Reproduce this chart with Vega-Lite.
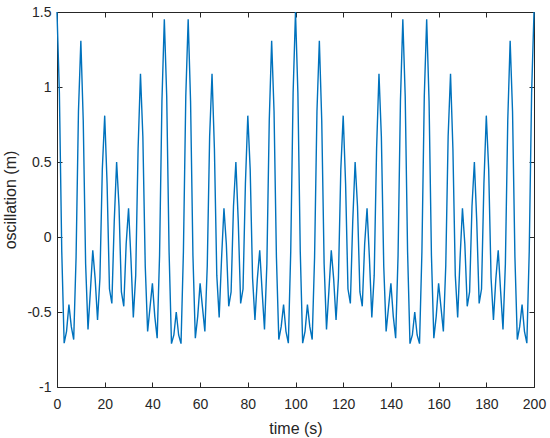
{
  "$schema": "https://vega.github.io/schema/vega-lite/v6.json",
  "width": 477,
  "height": 375,
  "autosize": "none",
  "padding": {"left": 57, "top": 12, "right": 16, "bottom": 51},
  "background": "white",
  "config": {
    "view": {"stroke": null},
    "axis": {
      "grid": false,
      "domainColor": "#262626",
      "tickColor": "#262626",
      "labelColor": "#262626",
      "titleColor": "#262626",
      "labelFont": "Liberation Sans",
      "titleFont": "Liberation Sans",
      "labelFontSize": 14,
      "titleFontSize": 16,
      "titleFontWeight": "normal",
      "tickSize": -5,
      "domainWidth": 1,
      "tickWidth": 1
    }
  },
  "data": {
    "values": [
      {"t":0,"v":1.5},{"t":1,"v":0.962},{"t":2,"v":-0.098},{"t":3,"v":-0.708},{"t":4,"v":-0.629},{"t":5,"v":-0.451},{"t":6,"v":-0.598},{"t":7,"v":-0.684},{"t":8,"v":-0.134},{"t":9,"v":0.838},
      {"t":10,"v":1.309},{"t":11,"v":0.778},{"t":12,"v":-0.179},{"t":13,"v":-0.616},{"t":14,"v":-0.361},{"t":15,"v":-0.088},{"t":16,"v":-0.279},{"t":17,"v":-0.553},{"t":18,"v":-0.273},{"t":19,"v":0.452},
      {"t":20,"v":0.809},{"t":21,"v":0.356},{"t":22,"v":-0.347},{"t":23,"v":-0.443},{"t":24,"v":0.104},{"t":25,"v":0.5},{"t":26,"v":0.205},{"t":27,"v":-0.366},{"t":28,"v":-0.462},{"t":29,"v":-0.047},
      {"t":30,"v":0.191},{"t":31,"v":-0.143},{"t":32,"v":-0.536},{"t":33,"v":-0.256},{"t":34,"v":0.588},{"t":35,"v":1.088},{"t":36,"v":0.670},{"t":37,"v":-0.193},{"t":38,"v":-0.630},{"t":39,"v":-0.469},
      {"t":40,"v":-0.309},{"t":41,"v":-0.529},{"t":42,"v":-0.675},{"t":43,"v":-0.125},{"t":44,"v":0.907},{"t":45,"v":1.451},{"t":46,"v":0.938},{"t":47,"v":-0.101},{"t":48,"v":-0.711},{"t":49,"v":-0.653},
      {"t":50,"v":-0.5},{"t":51,"v":-0.653},{"t":52,"v":-0.711},{"t":53,"v":-0.101},{"t":54,"v":0.938},{"t":55,"v":1.451},{"t":56,"v":0.907},{"t":57,"v":-0.125},{"t":58,"v":-0.675},{"t":59,"v":-0.529},
      {"t":60,"v":-0.309},{"t":61,"v":-0.469},{"t":62,"v":-0.630},{"t":63,"v":-0.193},{"t":64,"v":0.670},{"t":65,"v":1.088},{"t":66,"v":0.588},{"t":67,"v":-0.256},{"t":68,"v":-0.536},{"t":69,"v":-0.143},
      {"t":70,"v":0.191},{"t":71,"v":-0.047},{"t":72,"v":-0.462},{"t":73,"v":-0.366},{"t":74,"v":0.205},{"t":75,"v":0.5},{"t":76,"v":0.104},{"t":77,"v":-0.443},{"t":78,"v":-0.347},{"t":79,"v":0.356},
      {"t":80,"v":0.809},{"t":81,"v":0.452},{"t":82,"v":-0.273},{"t":83,"v":-0.553},{"t":84,"v":-0.279},{"t":85,"v":-0.088},{"t":86,"v":-0.361},{"t":87,"v":-0.616},{"t":88,"v":-0.179},{"t":89,"v":0.778},
      {"t":90,"v":1.309},{"t":91,"v":0.838},{"t":92,"v":-0.134},{"t":93,"v":-0.684},{"t":94,"v":-0.598},{"t":95,"v":-0.451},{"t":96,"v":-0.629},{"t":97,"v":-0.708},{"t":98,"v":-0.098},{"t":99,"v":0.962},
      {"t":100,"v":1.5},{"t":101,"v":0.962},{"t":102,"v":-0.098},{"t":103,"v":-0.708},{"t":104,"v":-0.629},{"t":105,"v":-0.451},{"t":106,"v":-0.598},{"t":107,"v":-0.684},{"t":108,"v":-0.134},{"t":109,"v":0.838},
      {"t":110,"v":1.309},{"t":111,"v":0.778},{"t":112,"v":-0.179},{"t":113,"v":-0.616},{"t":114,"v":-0.361},{"t":115,"v":-0.088},{"t":116,"v":-0.279},{"t":117,"v":-0.553},{"t":118,"v":-0.273},{"t":119,"v":0.452},
      {"t":120,"v":0.809},{"t":121,"v":0.356},{"t":122,"v":-0.347},{"t":123,"v":-0.443},{"t":124,"v":0.104},{"t":125,"v":0.5},{"t":126,"v":0.205},{"t":127,"v":-0.366},{"t":128,"v":-0.462},{"t":129,"v":-0.047},
      {"t":130,"v":0.191},{"t":131,"v":-0.143},{"t":132,"v":-0.536},{"t":133,"v":-0.256},{"t":134,"v":0.588},{"t":135,"v":1.088},{"t":136,"v":0.670},{"t":137,"v":-0.193},{"t":138,"v":-0.630},{"t":139,"v":-0.469},
      {"t":140,"v":-0.309},{"t":141,"v":-0.529},{"t":142,"v":-0.675},{"t":143,"v":-0.125},{"t":144,"v":0.907},{"t":145,"v":1.451},{"t":146,"v":0.938},{"t":147,"v":-0.101},{"t":148,"v":-0.711},{"t":149,"v":-0.653},
      {"t":150,"v":-0.5},{"t":151,"v":-0.653},{"t":152,"v":-0.711},{"t":153,"v":-0.101},{"t":154,"v":0.938},{"t":155,"v":1.451},{"t":156,"v":0.907},{"t":157,"v":-0.125},{"t":158,"v":-0.675},{"t":159,"v":-0.529},
      {"t":160,"v":-0.309},{"t":161,"v":-0.469},{"t":162,"v":-0.630},{"t":163,"v":-0.193},{"t":164,"v":0.670},{"t":165,"v":1.088},{"t":166,"v":0.588},{"t":167,"v":-0.256},{"t":168,"v":-0.536},{"t":169,"v":-0.143},
      {"t":170,"v":0.191},{"t":171,"v":-0.047},{"t":172,"v":-0.462},{"t":173,"v":-0.366},{"t":174,"v":0.205},{"t":175,"v":0.5},{"t":176,"v":0.104},{"t":177,"v":-0.443},{"t":178,"v":-0.347},{"t":179,"v":0.356},
      {"t":180,"v":0.809},{"t":181,"v":0.452},{"t":182,"v":-0.273},{"t":183,"v":-0.553},{"t":184,"v":-0.279},{"t":185,"v":-0.088},{"t":186,"v":-0.361},{"t":187,"v":-0.616},{"t":188,"v":-0.179},{"t":189,"v":0.778},
      {"t":190,"v":1.309},{"t":191,"v":0.838},{"t":192,"v":-0.134},{"t":193,"v":-0.684},{"t":194,"v":-0.598},{"t":195,"v":-0.451},{"t":196,"v":-0.629},{"t":197,"v":-0.708},{"t":198,"v":-0.098},{"t":199,"v":0.962},
      {"t":200,"v":1.5}
    ]
  },
  "layer": [
    {
      "mark": {"type": "line", "color": "#0072BD", "strokeWidth": 1.4},
      "encoding": {
        "x": {
          "field": "t", "type": "quantitative",
          "scale": {"domain": [0, 200], "nice": false},
          "axis": {"values": [0,20,40,60,80,100,120,140,160,180,200], "title": "time (s)", "labelPadding": 15, "labelFlush": false, "titlePadding": 9}
        },
        "y": {
          "field": "v", "type": "quantitative",
          "scale": {"domain": [-1, 1.5], "nice": false, "zero": false},
          "axis": {"values": [-1,-0.5,0,0.5,1,1.5], "labelExpr": "toString(datum.value)", "title": "oscillation (m)", "labelPadding": 11, "titlePadding": 8}
        }
      }
    },
    {
      "mark": {"type": "line", "opacity": 0},
      "encoding": {
        "x": {
          "field": "t", "type": "quantitative",
          "scale": {"domain": [0, 200], "nice": false},
          "axis": {"orient": "top", "values": [0,20,40,60,80,100,120,140,160,180,200], "labels": false, "title": null}
        },
        "y": {
          "field": "v", "type": "quantitative",
          "scale": {"domain": [-1, 1.5], "nice": false, "zero": false},
          "axis": {"orient": "right", "values": [-1,-0.5,0,0.5,1,1.5], "labels": false, "title": null}
        }
      }
    }
  ],
  "resolve": {"axis": {"x": "independent", "y": "independent"}}
}
